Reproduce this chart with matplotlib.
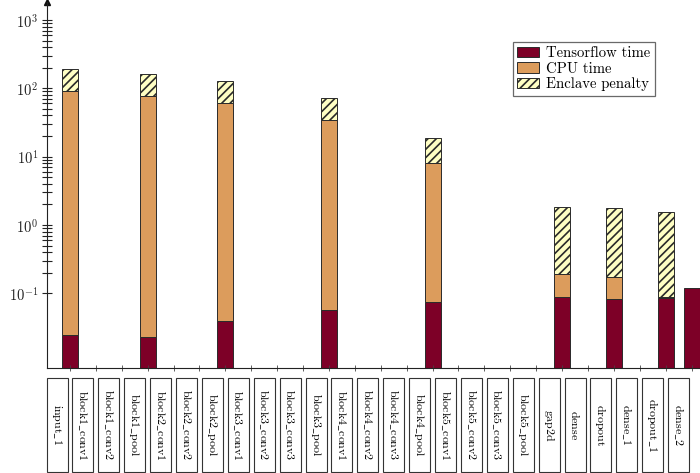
import numpy as np
import matplotlib
matplotlib.use("Agg")
import matplotlib.pyplot as plt
from matplotlib.patches import Rectangle, Patch
from matplotlib.transforms import blended_transform_factory
from matplotlib.ticker import FixedLocator, NullFormatter

plt.rcParams['font.family'] = ['cmr10', 'DejaVu Serif']
plt.rcParams['mathtext.fontset'] = 'cm'
plt.rcParams['hatch.linewidth'] = 1.2
plt.rcParams['axes.unicode_minus'] = False

categories = ["input_1", "block1_conv1", "block1_conv2", "block1_pool",
              "block2_conv1", "block2_conv2", "block2_pool",
              "block3_conv1", "block3_conv2", "block3_conv3", "block3_pool",
              "block4_conv1", "block4_conv2", "block4_conv3", "block4_pool",
              "block5_conv1", "block5_conv2", "block5_conv3", "block5_pool",
              "gap2d", "dense", "dropout", "dense_1", "dropout_1", "dense_2"]

tensorflow_time = [0.0245, 0, 0, 0.0227, 0, 0, 0.0394, 0, 0, 0, 0.057, 0, 0, 0,
                   0.0738, 0, 0, 0, 0, 0.0892, 0, 0.0826, 0, 0.0862, 0.121]
cpu_time = [92.3, 0, 0, 77.1, 0, 0, 61.5, 0, 0, 0, 34.3, 0, 0, 0,
            8.08, 0, 0, 0, 0, 0.102, 0, 0.088, 0, 0.002, 0]
enclave_penalty = [100.0, 0, 0, 85.0, 0, 0, 66.5, 0, 0, 0, 37.0, 0, 0, 0,
                   10.35, 0, 0, 0, 0, 1.62, 0, 1.58, 0, 1.44, 0]

ytick_vals = [1e-1, 1e0, 1e1, 1e2, 1e3]
ytick_labels = [r"$10^{-1}$", r"$10^{0}$", r"$10^{1}$", r"$10^{2}$", r"$10^{3}$"]

c_tf = "#7d0027"
c_cpu = "#dc9c5c"
c_enc = "#ffffc4"
c_edge = "#2a2a2a"

W, H = 700, 473
fig = plt.figure(figsize=(W / 100, H / 100), dpi=100)
ax_l, ax_r, ax_b, ax_t = 46.7, 700, 368.3, 2
ax = fig.add_axes([ax_l / W, 1 - ax_b / H, (ax_r - ax_l) / W, (ax_b - ax_t) / H])

ymin = 10 ** -2.0976
ymax = 10 ** 3.263
x = np.arange(len(categories))
tf = np.array(tensorflow_time, dtype=float)
cpu = np.array(cpu_time, dtype=float)
enc = np.array(enclave_penalty, dtype=float)

bw = 0.62
m = tf > 0
ax.bar(x[m], tf[m] - ymin, bottom=ymin, width=bw, color=c_tf, edgecolor=c_edge, linewidth=0.7)
m = cpu > 0
ax.bar(x[m], cpu[m], bottom=tf[m], width=bw, color=c_cpu, edgecolor=c_edge, linewidth=0.7)
m = enc > 0
ax.bar(x[m], enc[m], bottom=tf[m] + cpu[m], width=bw, color=c_enc, edgecolor=c_edge,
       linewidth=0.7, hatch="////")

ax.set_yscale("log")
ax.set_ylim(ymin, ymax)
ax.set_xlim((ax_l - 70) / 25.9, (ax_r - 70) / 25.9)

ax.yaxis.set_major_locator(FixedLocator(ytick_vals))
ax.set_yticklabels(ytick_labels, fontsize=10.5, color="#222222")
minor = [k * 10.0 ** e for e in range(-1, 3) for k in range(2, 10)]
ax.yaxis.set_minor_locator(FixedLocator(minor))
ax.yaxis.set_minor_formatter(NullFormatter())
ax.tick_params(axis="y", which="both", direction="inout", length=7.5, width=0.8,
               color="#222222", pad=2.5)
ax.set_xticks(x)
ax.set_xticklabels([])
ax.tick_params(axis="x", which="both", direction="inout", length=4, width=0.6, color="#444444")

for s in ["top", "right"]:
    ax.spines[s].set_visible(False)
for s in ["left", "bottom"]:
    ax.spines[s].set_linewidth(0.8)
    ax.spines[s].set_color("#222222")
ax.plot([0], [1], marker="^", color="#111111", markersize=4.5, transform=ax.transAxes,
        clip_on=False)

# label boxes below the axis
tr = blended_transform_factory(ax.transData, fig.transFigure)
box_w = 21 / 25.9
y_top = 1 - 378 / H
y_bot = 1 - 472 / H
for i, name in enumerate(categories):
    cx = i - 0.5
    ax.add_patch(Rectangle((cx - box_w / 2, y_bot), box_w, y_top - y_bot, transform=tr,
                           facecolor="white", edgecolor="#333333", linewidth=0.8,
                           clip_on=False))
    label = r"$\mathrm{" + name.replace("_", r"\_") + "}$"
    ax.text(cx, (y_top + y_bot) / 2, label, transform=tr, rotation=270,
            ha="center", va="center", fontsize=8.6, clip_on=False)

handles = [Patch(facecolor=c_tf, edgecolor=c_edge, linewidth=0.7, label="Tensorflow time"),
           Patch(facecolor=c_cpu, edgecolor=c_edge, linewidth=0.7, label="CPU time"),
           Patch(facecolor=c_enc, edgecolor=c_edge, linewidth=0.7, hatch="////",
                 label="Enclave penalty")]
leg = ax.legend(handles=handles, loc="upper left",
                bbox_to_anchor=(513 / W, 1 - 42 / H), bbox_transform=fig.transFigure,
                fontsize=10.6, frameon=True, fancybox=False, edgecolor="#444444",
                handlelength=1.45, handleheight=0.7, handletextpad=0.5,
                labelspacing=0.12, borderpad=0.3, borderaxespad=0)
leg.get_frame().set_linewidth(0.9)

fig.savefig("out.png", dpi=100)
